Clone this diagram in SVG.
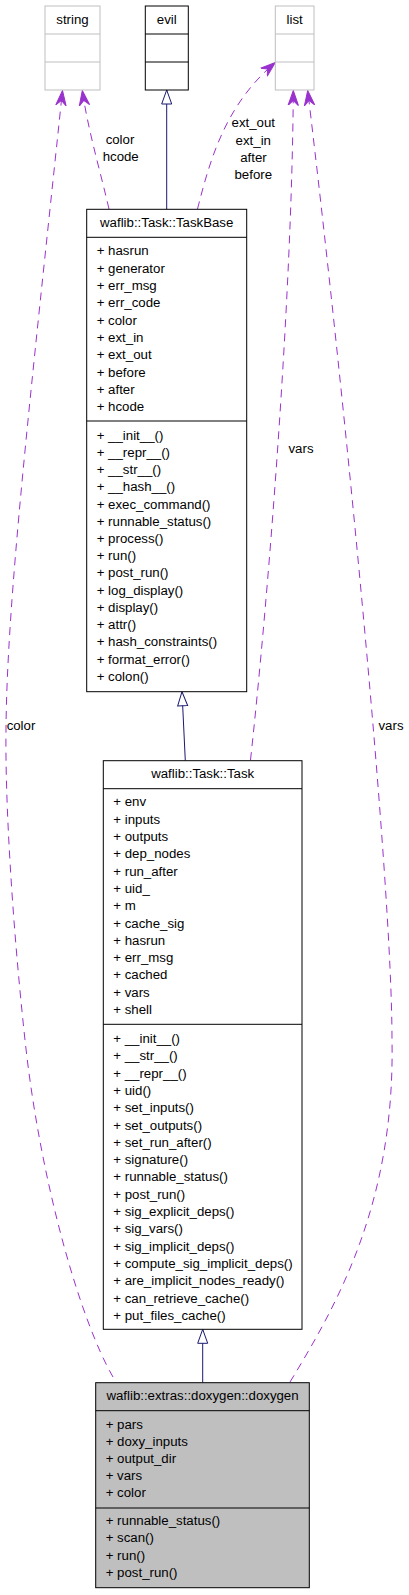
<svg xmlns="http://www.w3.org/2000/svg" width="409" height="1595" viewBox="0 0 409 1595">
<style>
text{font-family:"Liberation Sans",Arial,sans-serif;font-size:13.25px;fill:#000}
.c{text-anchor:middle}
.box{fill:#fff;stroke:#000;stroke-width:1}
.gbox{fill:#fff;stroke:#bfbfbf;stroke-width:1}
.cur{fill:#bfbfbf;stroke:#000;stroke-width:1}
.sep{stroke:#000;stroke-width:1}
.gsep{stroke:#bfbfbf;stroke-width:1}
.inh{fill:none;stroke:#191970;stroke-width:1;marker-end:url(#tri)}
.use{fill:none;stroke:#9a32cd;stroke-width:1;stroke-dasharray:8,6;marker-end:url(#vee)}
</style>
<defs>
<marker id="tri" viewBox="0 0 16 12" refX="15" refY="6" markerWidth="16" markerHeight="12" orient="auto" markerUnits="userSpaceOnUse"><path d="M1,1 L15,6 L1,11 z" fill="#fff" stroke="#191970" stroke-width="1"/></marker>
<marker id="vee" viewBox="0 0 16 12" refX="15" refY="6" markerWidth="16" markerHeight="12" orient="auto" markerUnits="userSpaceOnUse"><path d="M0,0.8 L15,6 L0,11.2 L5,6 z" fill="#9a32cd" stroke="#9a32cd" stroke-width="1"/></marker>
</defs>
<rect width="409" height="1595" fill="#fff"/>
<g id="edges">
<path class="inh" d="M166.7,209.3 L166.7,90"/>
<path class="inh" d="M185.3,760.7 L182,691.7"/>
<path class="inh" d="M202.7,1382.7 L202.7,1329.3"/>
<path class="use" d="M113,1377 C80,1320 40,1180 25,1040 C12,920 5,800 6,729 C7,600 30,400 62.5,90.5"/>
<path class="use" d="M109,209 C100,170 88,130 82.3,90.5"/>
<path class="use" d="M197.5,209 C210,160 225,105 275.3,62.5"/>
<path class="use" d="M250.5,760 C268,600 292,300 293.3,90.5"/>
<path class="use" d="M290,1382 C340,1300 395,1200 392,1040 C392,880 345,400 307.7,90.5"/>
<text class="c" x="120" y="144">color</text>
<text class="c" x="120.7" y="161.4">hcode</text>
<text class="c" x="253.3" y="127.4">ext_out</text>
<text class="c" x="253.3" y="144.7">ext_in</text>
<text class="c" x="253.5" y="162">after</text>
<text class="c" x="253.3" y="179.3">before</text>
<text class="c" x="301" y="453">vars</text>
<text class="c" x="391" y="729.5">vars</text>
<text class="c" x="21" y="729.5">color</text>
</g>
<g id="node-string">
<rect class="gbox" x="45" y="6" width="55" height="84"/>
<line class="gsep" x1="45" y1="34" x2="100" y2="34"/>
<line class="gsep" x1="45" y1="62" x2="100" y2="62"/>
<text class="c" x="72.5" y="23.5">string</text>
</g>
<g id="node-evil">
<rect class="box" x="145.3" y="6" width="43" height="84"/>
<line class="sep" x1="145.3" y1="34" x2="188.3" y2="34"/>
<line class="sep" x1="145.3" y1="62" x2="188.3" y2="62"/>
<text class="c" x="166.8" y="23.5">evil</text>
</g>
<g id="node-list">
<rect class="gbox" x="275.3" y="6" width="38.7" height="84"/>
<line class="gsep" x1="275.3" y1="34" x2="314" y2="34"/>
<line class="gsep" x1="275.3" y1="62" x2="314" y2="62"/>
<text class="c" x="294.7" y="23.5">list</text>
</g>
<g id="node-TaskBase">
<rect class="box" x="86.7" y="209.3" width="160" height="482.4"/>
<line class="sep" x1="86.7" y1="237.3" x2="246.7" y2="237.3"/>
<line class="sep" x1="86.7" y1="421" x2="246.7" y2="421"/>
<text class="c" x="166.7" y="227">waflib::Task::TaskBase</text>
<text x="96.7" y="255.4">+ hasrun<tspan x="96.7" dy="17.33">+ generator</tspan><tspan x="96.7" dy="17.33">+ err_msg</tspan><tspan x="96.7" dy="17.33">+ err_code</tspan><tspan x="96.7" dy="17.33">+ color</tspan><tspan x="96.7" dy="17.33">+ ext_in</tspan><tspan x="96.7" dy="17.33">+ ext_out</tspan><tspan x="96.7" dy="17.33">+ before</tspan><tspan x="96.7" dy="17.33">+ after</tspan><tspan x="96.7" dy="17.33">+ hcode</tspan></text>
<text x="96.7" y="439.7">+ __init__()<tspan x="96.7" dy="17.22">+ __repr__()</tspan><tspan x="96.7" dy="17.22">+ __str__()</tspan><tspan x="96.7" dy="17.22">+ __hash__()</tspan><tspan x="96.7" dy="17.22">+ exec_command()</tspan><tspan x="96.7" dy="17.22">+ runnable_status()</tspan><tspan x="96.7" dy="17.22">+ process()</tspan><tspan x="96.7" dy="17.22">+ run()</tspan><tspan x="96.7" dy="17.22">+ post_run()</tspan><tspan x="96.7" dy="17.22">+ log_display()</tspan><tspan x="96.7" dy="17.22">+ display()</tspan><tspan x="96.7" dy="17.22">+ attr()</tspan><tspan x="96.7" dy="17.22">+ hash_constraints()</tspan><tspan x="96.7" dy="17.22">+ format_error()</tspan><tspan x="96.7" dy="17.22">+ colon()</tspan></text>
</g>
<g id="node-Task">
<rect class="box" x="103.3" y="760.7" width="198.7" height="568.6"/>
<line class="sep" x1="103.3" y1="788.7" x2="302" y2="788.7"/>
<line class="sep" x1="103.3" y1="1024.3" x2="302" y2="1024.3"/>
<text class="c" x="202.7" y="778">waflib::Task::Task</text>
<text x="113.3" y="806.4">+ env<tspan x="113.3" dy="17.3">+ inputs</tspan><tspan x="113.3" dy="17.3">+ outputs</tspan><tspan x="113.3" dy="17.3">+ dep_nodes</tspan><tspan x="113.3" dy="17.3">+ run_after</tspan><tspan x="113.3" dy="17.3">+ uid_</tspan><tspan x="113.3" dy="17.3">+ m</tspan><tspan x="113.3" dy="17.3">+ cache_sig</tspan><tspan x="113.3" dy="17.3">+ hasrun</tspan><tspan x="113.3" dy="17.3">+ err_msg</tspan><tspan x="113.3" dy="17.3">+ cached</tspan><tspan x="113.3" dy="17.3">+ vars</tspan><tspan x="113.3" dy="17.3">+ shell</tspan></text>
<text x="113.3" y="1043">+ __init__()<tspan x="113.3" dy="17.3">+ __str__()</tspan><tspan x="113.3" dy="17.3">+ __repr__()</tspan><tspan x="113.3" dy="17.3">+ uid()</tspan><tspan x="113.3" dy="17.3">+ set_inputs()</tspan><tspan x="113.3" dy="17.3">+ set_outputs()</tspan><tspan x="113.3" dy="17.3">+ set_run_after()</tspan><tspan x="113.3" dy="17.3">+ signature()</tspan><tspan x="113.3" dy="17.3">+ runnable_status()</tspan><tspan x="113.3" dy="17.3">+ post_run()</tspan><tspan x="113.3" dy="17.3">+ sig_explicit_deps()</tspan><tspan x="113.3" dy="17.3">+ sig_vars()</tspan><tspan x="113.3" dy="17.3">+ sig_implicit_deps()</tspan><tspan x="113.3" dy="17.3">+ compute_sig_implicit_deps()</tspan><tspan x="113.3" dy="17.3">+ are_implicit_nodes_ready()</tspan><tspan x="113.3" dy="17.3">+ can_retrieve_cache()</tspan><tspan x="113.3" dy="17.3">+ put_files_cache()</tspan></text>
</g>
<g id="node-doxygen">
<rect class="cur" x="95.7" y="1382.7" width="213.6" height="205"/>
<line class="sep" x1="95.7" y1="1410.7" x2="309.3" y2="1410.7"/>
<line class="sep" x1="95.7" y1="1508" x2="309.3" y2="1508"/>
<text class="c" x="202.5" y="1400">waflib::extras::doxygen::doxygen</text>
<text x="105.7" y="1428.7">+ pars<tspan x="105.7" dy="17.08">+ doxy_inputs</tspan><tspan x="105.7" dy="17.08">+ output_dir</tspan><tspan x="105.7" dy="17.08">+ vars</tspan><tspan x="105.7" dy="17.08">+ color</tspan></text>
<text x="105.7" y="1524.7">+ runnable_status()<tspan x="105.7" dy="17.5">+ scan()</tspan><tspan x="105.7" dy="17.5">+ run()</tspan><tspan x="105.7" dy="17.5">+ post_run()</tspan></text>
</g>
</svg>
